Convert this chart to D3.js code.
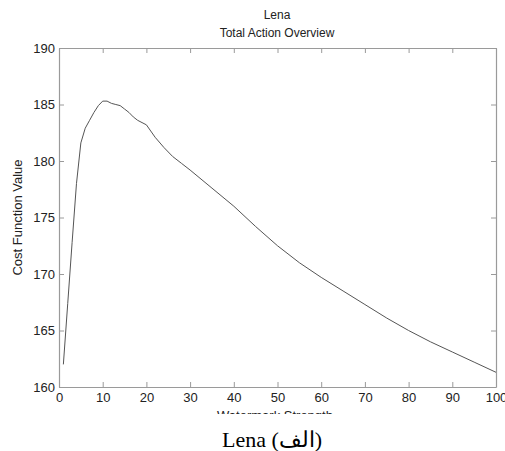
<!DOCTYPE html>
<html>
<head>
<meta charset="utf-8">
<script src="https://cdn.jsdelivr.net/npm/d3@7"></script>
<style>
  body { margin: 0; background: #fff; }
  text { font-family: "Liberation Sans", Arial, sans-serif; }
</style>
</head>
<body>
<svg id="chart" width="505" height="451"></svg>
<script>
// data
const strength = [1, 2, 3, 4, 5, 6, 7, 8, 9, 10, 11, 12, 13, 14, 15, 16, 17, 18, 19, 20,
  22, 24, 26, 28, 30, 35, 40, 45, 50, 55, 60, 65, 70, 75, 80, 85, 90, 95, 100];
const cost = [162.0, 167.4, 172.8, 178.0, 181.6, 182.9, 183.6, 184.3, 184.9, 185.3,
  185.3, 185.1, 185.0, 184.9, 184.6, 184.3, 183.9, 183.6, 183.4, 183.2,
  182.1, 181.2, 180.4, 179.8, 179.2, 177.6, 176.0, 174.2, 172.5, 171.0,
  169.7, 168.5, 167.3, 166.1, 165.0, 164.0, 163.1, 162.2, 161.3];
const xTicks = [0, 10, 20, 30, 40, 50, 60, 70, 80, 90, 100];
const yTicks = [160, 165, 170, 175, 180, 185, 190];

const svg = d3.select('#chart');
const margin = { top: 48, right: 9, bottom: 64, left: 59 };
const width = +svg.attr('width');
const height = +svg.attr('height');
const innerWidth = width - margin.left - margin.right;
const innerHeight = height - margin.top - margin.bottom;
const frameColor = '#9a9a9a';

const g = svg.append('g')
  .attr('transform', `translate(${margin.left},${margin.top})`);

const x = d3.scaleLinear().domain([0, 100]).range([0, innerWidth]);
const y = d3.scaleLinear().domain([160, 190]).range([innerHeight, 0]);

// axes, ticks pointing inward like matlab
const xAxis = g.append('g')
  .attr('transform', `translate(0,${innerHeight})`)
  .call(d3.axisBottom(x).tickValues(xTicks).tickSizeInner(-5).tickSizeOuter(0).tickPadding(6));
const yAxis = g.append('g')
  .call(d3.axisLeft(y).tickValues(yTicks).tickSizeInner(-5).tickSizeOuter(0).tickPadding(4));
const topAxis = g.append('g')
  .call(d3.axisTop(x).tickValues(xTicks).tickSizeInner(-5).tickSizeOuter(0).tickFormat(''));
const rightAxis = g.append('g')
  .attr('transform', `translate(${innerWidth},0)`)
  .call(d3.axisRight(y).tickValues(yTicks).tickSizeInner(-5).tickSizeOuter(0).tickFormat(''));

[xAxis, yAxis, topAxis, rightAxis].forEach(a => {
  a.select('.domain').attr('stroke', frameColor).attr('stroke-width', 1.2);
  a.selectAll('.tick line').attr('stroke', frameColor);
  a.selectAll('.tick text')
    .style('font-size', '13px')
    .attr('fill', '#222');
});

// the curve
const line = d3.line()
  .x((d, i) => x(strength[i]))
  .y(d => y(d));
g.append('path')
  .datum(cost)
  .attr('fill', 'none')
  .attr('stroke', '#555')
  .attr('stroke-width', 1)
  .attr('d', line);

// titles
svg.append('text')
  .attr('x', 277).attr('y', 19)
  .attr('text-anchor', 'middle')
  .style('font-size', '12px')
  .attr('fill', '#222')
  .text('Lena');
svg.append('text')
  .attr('x', 277).attr('y', 37)
  .attr('text-anchor', 'middle')
  .style('font-size', '12px')
  .attr('fill', '#222')
  .text('Total Action Overview');

// y label
svg.append('text')
  .attr('transform', `translate(22,${margin.top + innerHeight / 2}) rotate(-90)`)
  .attr('text-anchor', 'middle')
  .style('font-size', '13px')
  .attr('fill', '#222')
  .text('Cost Function Value');

// x label, cut off in the scan
svg.append('clipPath').attr('id', 'cut')
  .append('rect').attr('x', 0).attr('y', 0).attr('width', width).attr('height', 414);
svg.append('text')
  .attr('clip-path', 'url(#cut)')
  .attr('x', 275).attr('y', 420)
  .attr('text-anchor', 'middle')
  .style('font-size', '13px')
  .attr('fill', '#222')
  .text('Watermark Strength');

// caption below the figure
svg.append('text')
  .attr('x', 272).attr('y', 447)
  .attr('text-anchor', 'middle')
  .style('font-family', '"Liberation Serif", "Times New Roman", serif')
  .style('font-size', '22px')
  .attr('fill', '#000')
  .text('Lena (الف)');
</script>
</body>
</html>
